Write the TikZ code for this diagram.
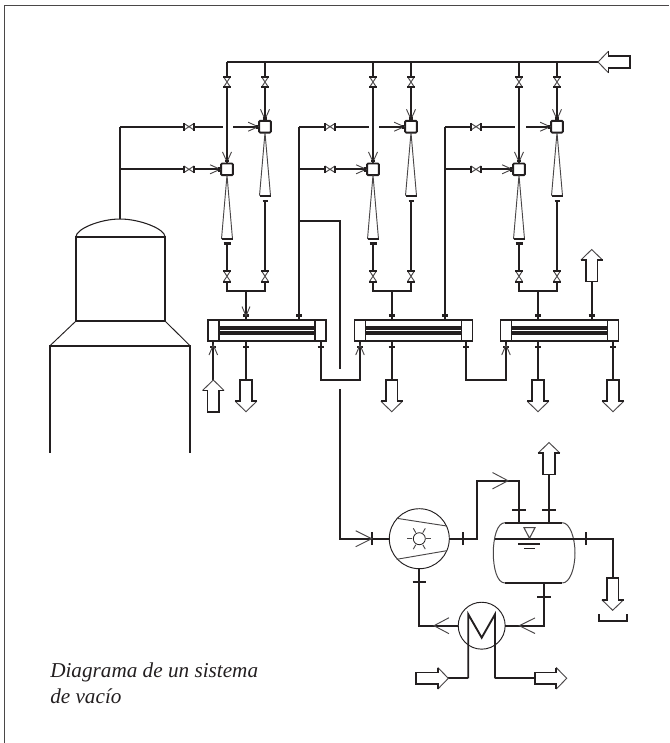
\documentclass[tikz,border=0pt]{standalone}
\usepackage{fontspec}
\setmainfont{Liberation Serif}
\usetikzlibrary{calc}
\definecolor{ink}{HTML}{231F20}
\definecolor{thinink}{HTML}{4A4748}
\tikzset{
  pipe/.style={draw=ink,line width=1.4pt,line cap=butt,line join=miter},
  thinl/.style={draw=thinink,line width=.7pt},
  tickl/.style={draw=ink,line width=1.6pt},
  mixbox/.style={draw=ink,line width=1.4pt,rounded corners=.8pt,fill=white,minimum size=8.8pt,inner sep=0pt,outer sep=0pt},
  exbox/.style={draw=ink,line width=1.4pt,fill=white,minimum width=88.5pt,minimum height=15.9pt,inner sep=0pt,outer sep=0pt},
  roundeq/.style={circle,draw=ink,line width=.7pt,fill=white,inner sep=0pt,outer sep=0pt},
  caption/.style={font=\fontsize{15.9}{19.5}\selectfont\itshape,text=ink,align=left,inner sep=0pt,anchor=base west}
}
% valve: position, rotation (0 = on a vertical pipe)
\newcommand{\valve}[2]{\begin{scope}[shift={#1},rotate=#2]
  \fill[white] (-3.6,-5.4) rectangle (3.6,5.4);
  \draw[thinl] (-3.4,-5.2) -- (3.4,5.2) (3.4,-5.2) -- (-3.4,5.2);
  \draw[tickl] (-3.8,-5.4) -- (3.8,-5.4) (-3.8,5.4) -- (3.8,5.4);
\end{scope}}
% open arrow: tip position, rotation (0 = points up), back length, half width
\newcommand{\wing}[4]{\begin{scope}[shift={#1},rotate=#2]
  \draw[thinl] (-#4,#3) -- (0,0) -- (#4,#3);
\end{scope}}
% tick across a pipe
\newcommand{\tick}[3]{\begin{scope}[shift={#1},rotate=#2]
  \draw[tickl] (-#3,0) -- (#3,0);
\end{scope}}
% block arrow: tip position, rotation (0 = points up)
\newcommand{\blockarrow}[2]{\begin{scope}[shift={#1},rotate=#2]
  \draw[thinl] (-10.8,10.5) -- (0,0) -- (10.8,10.5);
  \draw[pipe] (-10.8,10.5) -- (-5.8,10.5) -- (-5.8,32) -- (5.8,32) -- (5.8,10.5) -- (10.8,10.5);
\end{scope}}
\begin{document}
\begin{tikzpicture}[x=.75pt,y=-.75pt]
\useasboundingbox (0,0) rectangle (669,743);
% frame
\draw[draw=thinink,line width=1pt] (4.5,743) -- (4.5,5.7) -- (669,5.7);

% header
\coordinate (hdrL) at (227,62);
\coordinate (hdrTip) at (598,62);
\draw[pipe] (hdrL) -- (hdrTip);
\blockarrow{(hdrTip)}{90}

% exchangers
\node[exbox] (ex1) at (267,330.5) {};
\node[exbox] (ex2) at (413.5,330.5) {};
\node[exbox] (ex3) at (559.5,330.5) {};
\foreach \e in {1,2,3}{
  \coordinate (dA\e) at ($(ex\e.north west)+(11,0)$);
  \coordinate (dB\e) at ($(ex\e.south west)+(11,0)$);
  \coordinate (dC\e) at ($(ex\e.north east)+(-11,0)$);
  \coordinate (dD\e) at ($(ex\e.south east)+(-11,0)$);
  \draw[pipe] (dA\e) -- (dB\e) (dC\e) -- (dD\e);
  \draw[draw=ink,line width=2.7pt] ($(dA\e)+(0,8)$) -- ($(dC\e)+(0,8)$);
  \draw[draw=ink,line width=2.7pt] ($(dA\e)+(0,13)$) -- ($(dC\e)+(0,13)$);
}

% three ejector groups
\foreach \g/\cl/\cr/\col/\vx/\gl/\gr/\dx/\tx in {
   1/227/265/120/189/222.7/233/246/ex1,
   2/373/411/299/330/368.7/379/392/ex2,
   3/519/557/445/476/515/526/538/ex3}{
  \coordinate (topL\g) at (\cl,62);
  \coordinate (topR\g) at (\cr,62);
  \node[mixbox] (mixU\g) at (\cr,126.7) {};
  \node[mixbox] (mixL\g) at (\cl,169.3) {};
  % steam lines
  \draw[pipe] (topL\g) -- (mixL\g.north);
  \draw[pipe] (topR\g) -- (mixU\g.north);
  % cones
  \coordinate (baseU\g) at (\cr,195.7);
  \coordinate (baseL\g) at (\cl,239);
  \draw[thinl] (mixU\g.south) -- ($(baseU\g)+(-5.5,0)$) ($(baseU\g)+(5.5,0)$) -- (mixU\g.south);
  \draw[thinl] (mixL\g.south) -- ($(baseL\g)+(-5.5,0)$) ($(baseL\g)+(5.5,0)$) -- (mixL\g.south);
  \draw[pipe] ($(baseU\g)+(-5.5,0)$) -- ($(baseU\g)+(5.5,0)$);
  \draw[pipe] ($(baseL\g)+(-5.5,0)$) -- ($(baseL\g)+(5.5,0)$);
  % discharge
  \coordinate (busL\g) at (\cl,290.7);
  \coordinate (busR\g) at (\cr,290.7);
  \coordinate (drop\g) at (\dx,290.7);
  \draw[pipe] ($(baseU\g)+(0,4.6)$) -- (busR\g) -- (busL\g) -- ($(baseL\g)+(0,4.6)$);
  \draw[pipe] (drop\g) -- (drop\g |- \tx.north);
  \tick{($(baseU\g)+(0,5)$)}{0}{2.5}
  \tick{($(baseL\g)+(0,4.5)$)}{0}{3.5}
  \tick{(\dx,315.5)}{0}{3.2}
  % valves
  \valve{(\cl,82)}{0}
  \valve{(\cr,82)}{0}
  \valve{(\cl,276.2)}{0}
  \valve{(\cr,276.2)}{0}
  % process lines
  \coordinate (colT\g) at (\col,126.7);
  \coordinate (gapA\g) at (\gl,126.7);
  \coordinate (gapB\g) at (\gr,126.7);
  \coordinate (colM\g) at (\col,169.3);
  \draw[pipe] (colT\g) -- (gapA\g) (gapB\g) -- (mixU\g.west);
  \draw[pipe] (colM\g) -- (mixL\g.west);
  \valve{(\vx,126.7)}{90}
  \valve{(\vx,169.3)}{90}
  % open arrows and ticks into the boxes
  \wing{($(mixU\g.west)+(-1,0)$)}{-90}{10}{4.5}
  \wing{($(mixL\g.west)+(-1,0)$)}{-90}{10}{4.5}
  \wing{($(mixU\g.north)+(0,-1.5)$)}{180}{10}{4.5}
  \wing{($(mixL\g.north)+(0,-1.5)$)}{180}{10}{4.5}
  \tick{($(mixU\g.north)+(0,-2.4)$)}{0}{2.2}
  \tick{($(mixL\g.north)+(0,-2.4)$)}{0}{2.2}
  \tick{($(mixU\g.west)+(-2.4,0)$)}{90}{2.2}
  \tick{($(mixL\g.west)+(-2.4,0)$)}{90}{2.2}
}
% open arrow above the first exchanger
\wing{(246,316)}{180}{9.5}{4}

% collectors
\draw[pipe] (colT1) -- (120,219);
\coordinate (tap2) at (299,221);
\coordinate (tee2) at (340,221);
\coordinate (gap2a) at (340,369);
\coordinate (gap2b) at (340,389);
\draw[pipe] (colT2) -- (colT2 |- ex1.north);
\tick{(299,315.5)}{0}{2.8}
\draw[pipe] (tap2) -- (tee2) -- (gap2a);
\draw[pipe] (colT3) -- (colT3 |- ex2.north);
\tick{(445,315.5)}{0}{2.8}

% exchanger 1 lower side
\coordinate (inA) at (213.3,380);
\draw[pipe] (inA) -- (inA |- ex1.south);
\tick{(213.3,346.8)}{0}{3}
\wing{(213.3,345)}{0}{10}{4.3}
\blockarrow{(inA)}{0}
\coordinate (outA) at (246,379.7);
\draw[pipe] (outA) -- (outA |- ex1.south);
\tick{(246,347)}{0}{3}
\blockarrow{(246,411.7)}{180}

% link exchanger 1 to 2
\coordinate (lk1a) at (320.7,379.7);
\coordinate (lk1b) at (360,379.7);
\draw[pipe] (lk1a |- ex1.south) -- (lk1a) -- (lk1b) -- (lk1b |- ex2.south);
\tick{(320.7,347)}{0}{3}
\tick{(360,346.8)}{0}{3}
\wing{(360,345)}{0}{10}{4.3}

% exchanger 2 lower side
\coordinate (outB) at (391.7,379.7);
\draw[pipe] (outB) -- (outB |- ex2.south);
\tick{(391.7,347)}{0}{3}
\blockarrow{(391.7,411.7)}{180}

% link exchanger 2 to 3
\coordinate (lk2a) at (466.3,379.7);
\coordinate (lk2b) at (506,379.7);
\draw[pipe] (lk2a |- ex2.south) -- (lk2a) -- (lk2b) -- (lk2b |- ex3.south);
\tick{(466.3,347)}{0}{3}
\tick{(506,346.8)}{0}{3}
\wing{(506,345)}{0}{10}{4.3}

% exchanger 3 lower and upper side
\coordinate (outC) at (538,379.7);
\coordinate (outD) at (613,379.7);
\draw[pipe] (outC) -- (outC |- ex3.south);
\draw[pipe] (outD) -- (outD |- ex3.south);
\tick{(538,347)}{0}{3}
\tick{(613,347)}{0}{3}
\blockarrow{(538,411.7)}{180}
\blockarrow{(613,411.7)}{180}
\coordinate (ventC) at (591.7,281.5);
\draw[pipe] (ventC) -- (ventC |- ex3.north);
\tick{(591.7,315.5)}{0}{3}
\blockarrow{(591.7,249.5)}{0}

% column
\coordinate (domeTop) at (120,219);
\coordinate (colNW) at (76,236.7);
\coordinate (colNE) at (165,236.7);
\coordinate (colSW) at (76,321);
\coordinate (colSE) at (165,321);
\coordinate (baseNW) at (50,345.7);
\coordinate (baseNE) at (190,345.7);
\draw[draw=ink,line width=.8pt] (colNW) .. controls (76,229) and (100,219) .. (domeTop) .. controls (140,219) and (165,229) .. (colNE);
\draw[pipe] (colNW) -- (colNE) -- (colSE) -- (colSW) -- cycle;
\draw[draw=ink,line width=.7pt] (colSW) -- (baseNW) (colSE) -- (baseNE);
\draw[pipe] (50,452.7) -- (baseNW) -- (baseNE) -- (190,452.7);

% vacuum pump
\node[roundeq,minimum size=45pt] (pump) at (419.3,538.7) {};
\node[roundeq,line width=.6pt,minimum size=9pt] (imp) at (419.3,538.7) {};
\draw[thinl] (396.7,518.3) -- (446.7,526) (396.7,559.3) -- (446.7,550.7);
\foreach \a in {0,60,120,180,240,300}
  \draw[thinl] ($(imp)+(\a:7)$) -- ($(imp)+(\a:12)$);
\coordinate (pumpIn) at (340,538.7);
\draw[pipe] (gap2b) -- (pumpIn) -- (pump.west);
\tick{(371.7,538.7)}{90}{6.5}
\wing{(371.7,538.7)}{-90}{16}{8}

% separator
\coordinate (vNW) at (505,522.7);
\coordinate (vNE) at (562.3,522.7);
\coordinate (vSW) at (505,583);
\coordinate (vSE) at (562.3,583);
\draw[draw=thinink,line width=.75pt] (vNW) .. controls (497,522.7) and (493.3,538) .. (493.3,553) .. controls (493.3,568) and (497,583) .. (vSW);
\draw[draw=thinink,line width=.75pt] (vNE) .. controls (570,522.7) and (575,538) .. (575,553) .. controls (575,568) and (570,583) .. (vSE);
\draw[pipe] (vNW) -- (vNE) (vSW) -- (vSE);

% pump to separator
\coordinate (upA) at (476.7,538.7);
\coordinate (upB) at (476.7,480.7);
\coordinate (upC) at (519,480.7);
\draw[pipe] (pump.east) -- (upA) -- (upB) -- (upC) -- (upC |- vNW);
\tick{(463,538.7)}{90}{6.5}
\wing{(508,480.7)}{-90}{15.5}{8.2}
\tick{(519,510)}{0}{6.7}

% gas outlet
\coordinate (gasOut) at (549,474);
\draw[pipe] (gasOut) -- (gasOut |- vNE);
\tick{(549,510)}{0}{6.7}
\blockarrow{(549,442.5)}{0}

% liquid line
\coordinate (liqA) at (495,538.7);
\coordinate (liqB) at (612.7,538.7);
\coordinate (liqC) at (612.7,578);
\draw[pipe] (liqA) -- (liqB) -- (liqC);
\tick{(585.7,538.7)}{90}{6.5}
\blockarrow{(612.7,610.3)}{180}
\draw[draw=ink,line width=1pt] (599,614.3) -- (599,621) -- (627,621) -- (627,614.3);

% level mark
\draw[thinl,fill=white,line width=.8pt] (524,527.7) -- (535,527.7) -- (529.5,538.3) -- cycle;
\draw[pipe,line width=1.1pt] (518.3,544) -- (540,544) (524,548.7) -- (534.7,548.7);

% cooler
\node[roundeq,minimum size=35.2pt] (hx) at (481.7,625.7) {};
\coordinate (hxM) at (481.7,637.7);
\coordinate (coolIn) at (468.3,678.3);
\coordinate (coolOut) at (495,678.3);
\draw[pipe,line join=miter] (coolIn) -- (468.3,614.3) -- (hxM) -- (495,614.3) -- (coolOut);
\coordinate (fromV) at (544,583);
\coordinate (cornerV) at (544,625.7);
\draw[pipe] (fromV) -- (cornerV) -- (hx.east);
\tick{(544,596.7)}{0}{6.7}
\wing{(519.3,625.7)}{90}{15.7}{7.8}
\coordinate (cornerP) at (419.3,625.7);
\draw[pipe] (hx.west) -- (cornerP) -- (pump.south);
\tick{(419.3,581.7)}{0}{6.7}
\wing{(434,625.7)}{90}{15}{8}

% cooling water
\coordinate (cwA) at (448.3,678.3);
\coordinate (cwB) at (534.3,678.3);
\draw[pipe] (cwA) -- (coolIn);
\draw[pipe] (coolOut) -- (cwB);
\blockarrow{(cwA)}{-90}
\blockarrow{(566.7,678.3)}{-90}

% caption
\node[caption] (cap) at (50,703) {Diagrama de un sistema\\de vacío};
\end{tikzpicture}
\end{document}
